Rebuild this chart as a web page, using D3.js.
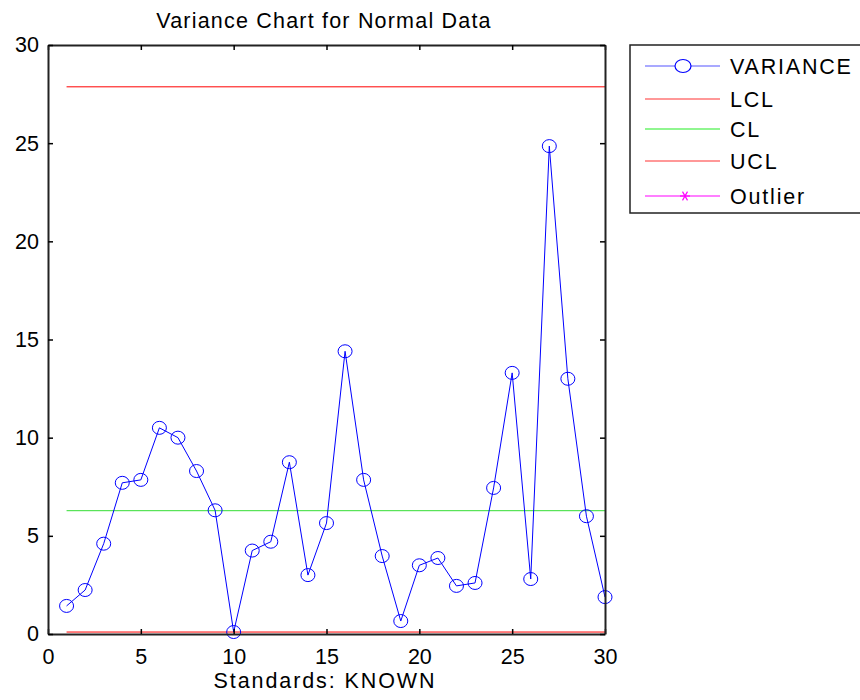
<!DOCTYPE html>
<html>
<head>
<meta charset="utf-8">
<script src="https://cdn.jsdelivr.net/npm/d3@7"></script>
<style>
  body { margin: 0; background: #fff; }
  text { font-family: "Liberation Sans", Arial, sans-serif; }
</style>
</head>
<body>
<div id="chart"></div>
<script>
const samples = d3.range(1, 31)
const variance = [1.43, 2.24, 4.6, 7.7, 7.85, 10.5, 10.0, 8.3, 6.3, 0.1,
  4.25, 4.7, 8.75, 3.0, 5.65, 14.4, 7.85, 3.97, 0.66, 3.5,
  3.87, 2.45, 2.6, 7.44, 13.3, 2.8, 24.85, 13.0, 6.0, 1.88]
const ucl = 27.87
const cl = 6.28
const lcl = 0.1
const xTicks = [0, 5, 10, 15, 20, 25, 30]
const yTicks = [0, 5, 10, 15, 20, 25, 30]
const legendItems = ["VARIANCE", "LCL", "CL", "UCL", "Outlier"]

const W = 860, H = 700
const margin = { top: 45, right: 255, bottom: 66, left: 48 }
const width = 605 - margin.left
const height = 634 - margin.top
const fontSize = 21.5

const svg = d3.select("#chart").append("svg")
  .attr("width", W).attr("height", H)

const g = svg.append("g").attr("transform", `translate(${margin.left},${margin.top})`)

const x = d3.scaleLinear().domain([0, 30]).range([0, width])
const y = d3.scaleLinear().domain([0, 30]).range([height, 0])

const blue = "#0000ff", red = "#ff0000", green = "#33dd33", magenta = "#ff00ff"

// limit lines
const limits = [
  { v: ucl, c: red },
  { v: cl, c: green },
  { v: lcl, c: red },
]
g.selectAll(".limit").data(limits).join("line")
  .attr("class", "limit")
  .attr("x1", x(1)).attr("x2", x(30))
  .attr("y1", (d) => y(d.v)).attr("y2", (d) => y(d.v))
  .attr("stroke", (d) => d.c).attr("stroke-width", 1)

// variance line
const line = d3.line().x((d, i) => x(samples[i])).y((d) => y(d))
g.append("path").datum(variance)
  .attr("d", line).attr("fill", "none")
  .attr("stroke", blue).attr("stroke-width", 1)

g.selectAll(".marker").data(variance).join("ellipse")
  .attr("class", "marker")
  .attr("cx", (d, i) => x(samples[i])).attr("cy", (d) => y(d))
  .attr("rx", 7).attr("ry", 6.5)
  .attr("fill", "none").attr("stroke", blue).attr("stroke-width", 1)

// axes: ticks inward on all four sides
const tickLen = 5
const axBottom = g.append("g").attr("transform", `translate(0,${height})`)
  .call(d3.axisBottom(x).tickValues(xTicks).tickSizeInner(-tickLen).tickSizeOuter(0).tickPadding(15))
const axTop = g.append("g")
  .call(d3.axisTop(x).tickValues(xTicks).tickSizeInner(-tickLen).tickSizeOuter(0).tickFormat(""))
const axLeft = g.append("g")
  .call(d3.axisLeft(y).tickValues(yTicks).tickSizeInner(-tickLen).tickSizeOuter(0).tickPadding(9))
const axRight = g.append("g").attr("transform", `translate(${width},0)`)
  .call(d3.axisRight(y).tickValues(yTicks).tickSizeInner(-tickLen).tickSizeOuter(0).tickFormat(""))

;[axBottom, axTop, axLeft, axRight].forEach((a) => {
  a.select(".domain").attr("stroke", "#222").attr("stroke-width", 2)
  a.selectAll(".tick line").attr("stroke", "#000").attr("stroke-width", 1.5)
  a.selectAll(".tick text").attr("font-size", fontSize).attr("fill", "#000")
    .style("font-family", '"Liberation Sans", Arial, sans-serif')
})
axBottom.selectAll(".tick text").attr("dy", "0.71em")

// title + x label
svg.append("text").attr("x", 324).attr("y", 28)
  .attr("text-anchor", "middle").attr("font-size", fontSize)
  .attr("letter-spacing", 1.2)
  .text("Variance Chart for Normal Data")
svg.append("text").attr("x", 325).attr("y", 688)
  .attr("text-anchor", "middle").attr("font-size", fontSize)
  .attr("letter-spacing", 1.9)
  .text("Standards: KNOWN")

// legend
const lg = svg.append("g").attr("transform", "translate(630,45)")
lg.append("rect").attr("x", 0).attr("y", 0).attr("width", 240).attr("height", 168)
  .attr("fill", "#fff").attr("stroke", "#222").attr("stroke-width", 1.5)
const legendColors = ["#5555ff", "#ff3333", "#22ee22", "#ff3333", magenta]
const rowY = [21, 54, 84, 116, 151]
legendItems.forEach((name, i) => {
  const row = lg.append("g").attr("transform", `translate(0,${rowY[i]})`)
  row.append("line").attr("x1", 15).attr("x2", 90).attr("y1", 0).attr("y2", 0)
    .attr("stroke", legendColors[i]).attr("stroke-width", 1.2)
  if (i === 0) {
    row.append("ellipse").attr("cx", 53).attr("cy", 0).attr("rx", 8).attr("ry", 6.5)
      .attr("fill", "#fff").attr("stroke", blue).attr("stroke-width", 1.2)
  }
  if (i === 4) {
    const s = 5
    ;[0, 60, 120].forEach((a) => {
      const r = (a * Math.PI) / 180
      row.append("line")
        .attr("x1", 55 - s * Math.cos(r)).attr("y1", -s * Math.sin(r))
        .attr("x2", 55 + s * Math.cos(r)).attr("y2", s * Math.sin(r))
        .attr("stroke", magenta).attr("stroke-width", 1.2)
    })
  }
  row.append("text").attr("x", 100).attr("y", 0).attr("dy", "0.35em")
    .attr("font-size", fontSize).attr("letter-spacing", 1.8)
    .attr("fill", "#000").text(name)
})
</script>
</body>
</html>
